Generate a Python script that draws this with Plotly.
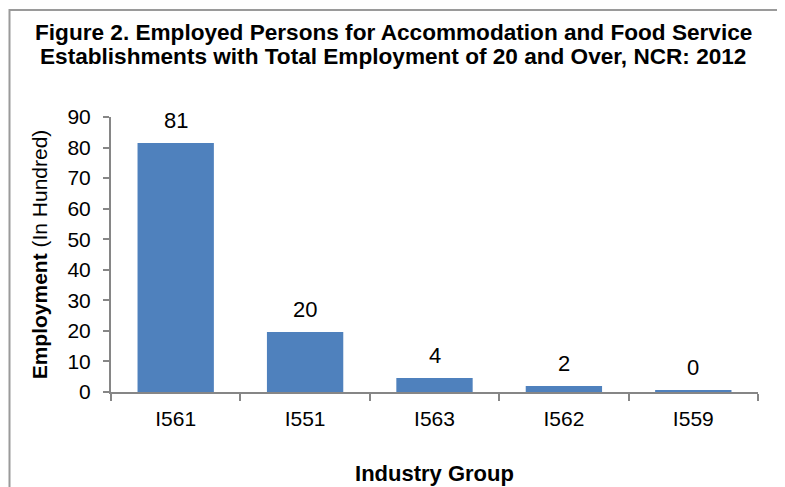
import plotly.graph_objects as go

# datos
industry_groups = ["I561", "I551", "I563", "I562", "I559"]
employment = [81.5, 19.6, 4.6, 2.0, 0.5]
value_labels = ["81", "20", "4", "2", "0"]
y_ticks = list(range(0, 91, 10))
title_lines = [
    "Figure 2. Employed Persons for Accommodation and Food Service",
    "Establishments with Total Employment of 20 and Over, NCR: 2012",
]

FONT = "Liberation Sans, Arial, sans-serif"
AXIS_GRAY = "#868686"

W, H = 785, 487
OFF = 8  # margen por defecto del <body> en la pagina html
L, T = 111 - OFF, 117 - OFF
R, B = W - (758 - OFF), H - (392 - OFF)
pw, ph = W - L - R, H - T - B


def px_x(v):
    return (v - OFF - L) / pw


def px_y(v):
    return (H - B - (v - OFF)) / ph


fig = go.Figure(go.Bar(
    x=industry_groups,
    y=employment,
    marker=dict(color="#4F81BD", line=dict(width=0)),
    width=0.59,
    hoverinfo="x+y",
))

# etiquetas de valor sobre las barras
for cat, val, lab in zip(industry_groups, employment, value_labels):
    fig.add_annotation(
        x=cat, y=val, text=lab, showarrow=False,
        yanchor="bottom", yshift=8,
        font=dict(family=FONT, size=22, color="black"),
    )

# titulo en dos lineas (interlineado como el original), centrado en la pagina
for line, ypix in zip(title_lines, [32, 57]):
    fig.add_annotation(
        x=px_x(393), xref="paper", y=px_y(ypix), yref="paper",
        text="<b>" + line + "</b>", showarrow=False,
        xanchor="center", yanchor="middle",
        font=dict(family=FONT, size=22.6, color="black"),
    )

# marco exterior del grafico
fig.add_shape(
    type="rect", xref="paper", yref="paper",
    x0=px_x(9.5), x1=px_x(779), y0=px_y(520), y1=px_y(10),
    line=dict(color="#9a9a9a", width=2), fillcolor="rgba(0,0,0,0)",
    layer="below",
)

fig.update_layout(
    width=W, height=H,
    margin=dict(l=L, r=R, t=T, b=B),
    paper_bgcolor="white", plot_bgcolor="white",
    font=dict(family=FONT, size=21, color="black"),
    showlegend=False,
    bargap=0.41,
    xaxis=dict(
        title=dict(text="<b>Industry Group</b>", standoff=36,
                   font=dict(family=FONT, size=22)),
        showline=True, linecolor=AXIS_GRAY, linewidth=2,
        ticks="outside", tickson="boundaries", ticklen=7, tickwidth=2,
        tickcolor=AXIS_GRAY, ticklabelstandoff=7,
        showgrid=False, zeroline=False,
        tickfont=dict(family=FONT, size=21),
        automargin=False,
    ),
    yaxis=dict(
        title=dict(text="<b>Employment</b> (In Hundred)", standoff=14,
                   font=dict(family=FONT, size=21)),
        range=[0, 90], tickvals=y_ticks,
        showline=True, linecolor=AXIS_GRAY, linewidth=2,
        ticks="outside", ticklen=6, tickwidth=2, tickcolor=AXIS_GRAY,
        ticklabelstandoff=8,
        showgrid=False, zeroline=False,
        tickfont=dict(family=FONT, size=21),
        automargin=False,
    ),
)

fig.write_html("out.html")
